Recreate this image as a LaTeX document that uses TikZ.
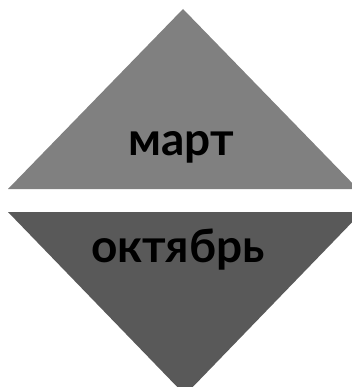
\documentclass[tikz,border=0pt]{standalone}
\usepackage{fontspec}
\setmainfont{Lato}
\usetikzlibrary{positioning}
\definecolor{topgray}{RGB}{128,128,128}
\definecolor{lowgray}{RGB}{89,89,89}
\tikzset{
  month/.style = {font=\fontsize{46}{50}\selectfont\bfseries,text=black,
                  inner sep=0pt,anchor=base},
}
\begin{document}
\begin{tikzpicture}[x=1pt,y=-1pt]
  \useasboundingbox (0,0) rectangle (352,387);
  \clip (0,0) rectangle (352,387);
  % upper and lower halves
  \fill[topgray] (183,9) -- (358,189) -- (8,189) -- cycle;
  \fill[lowgray] (8,212) -- (362,212) -- (185,395) -- cycle;
  \node[month] (mar) at (181,156) {март};
  \node[month] (oct) at (178,262) {октябрь};
\end{tikzpicture}
\end{document}
